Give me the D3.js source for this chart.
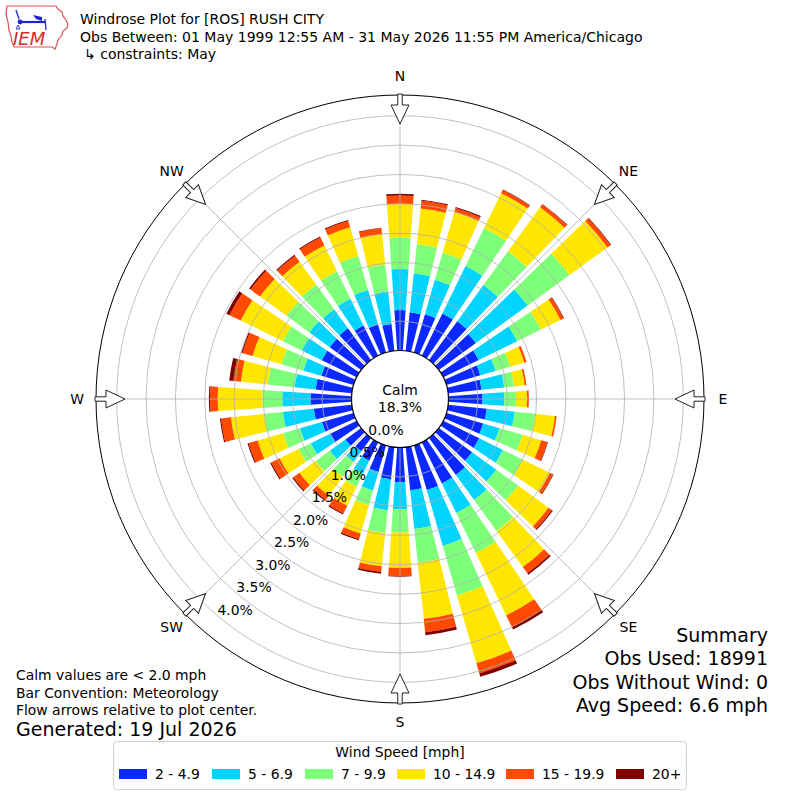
<!DOCTYPE html>
<html>
<head>
<meta charset="utf-8">
<script src="https://cdn.jsdelivr.net/npm/d3@7"></script>
<style>
  html, body { margin: 0; padding: 0; background: #fff; }
  svg { display: block; }
  text { font-family: "DejaVu Sans", sans-serif; }
</style>
</head>
<body>
<svg id="chart" width="800" height="800"></svg>
<script>
// ---------------- data ----------------
const directions = d3.range(0, 360, 10); // degrees, meteorological (from)
const speedBins = ["2 - 4.9", "5 - 6.9", "7 - 9.9", "10 - 14.9", "15 - 19.9", "20+"];
const binColors = ["#0a28ff", "#00d4ff", "#7dff7a", "#ffe600", "#ff4a00", "#800000"];

// percent of observations per direction per speed bin
const speed2to5   = [0.69,0.66,0.68,0.80,0.82,0.78,0.67,0.60,0.57,0.58,0.66,0.65,0.68,0.70,0.78,0.78,0.79,0.74,0.59,0.55,0.47,0.35,0.28,0.33,0.50,0.56,0.65,0.70,0.62,0.57,0.66,0.66,0.67,0.57,0.50,0.46];
const speed5to7   = [0.70,0.67,0.61,0.90,0.76,1.09,0.73,0.27,0.39,0.37,0.48,0.29,0.45,0.51,0.53,0.56,0.99,0.66,0.46,0.53,0.33,0.25,0.22,0.33,0.37,0.39,0.53,0.48,0.36,0.32,0.38,0.43,0.40,0.51,0.61,0.56];
const speed7to10  = [0.53,0.50,0.48,0.72,0.71,0.88,0.45,0.26,0.17,0.20,0.35,0.41,0.38,0.46,0.65,0.76,0.88,0.58,0.40,0.39,0.26,0.24,0.32,0.30,0.23,0.30,0.32,0.34,0.46,0.39,0.36,0.48,0.52,0.52,0.60,0.46];
const speed10to15 = [0.58,0.61,0.72,0.66,0.93,0.80,0.37,0.25,0.18,0.19,0.34,0.33,0.51,0.64,0.76,1.18,1.20,0.96,0.60,0.57,0.50,0.36,0.40,0.34,0.36,0.45,0.57,0.76,0.46,0.51,0.80,0.56,0.48,0.49,0.51,0.52];
const speed15to20 = [0.14,0.13,0.07,0.06,0.06,0.07,0.06,0.04,0.03,0.03,0.03,0.11,0.06,0.07,0.13,0.22,0.18,0.23,0.14,0.10,0.10,0.15,0.09,0.13,0.16,0.16,0.17,0.13,0.13,0.18,0.21,0.20,0.13,0.15,0.11,0.10];
const speed20plus = [0.03,0.02,0.02,0.01,0.01,0.01,0.01,0.00,0.00,0.00,0.00,0.01,0.01,0.02,0.03,0.05,0.06,0.05,0.01,0.03,0.02,0.02,0.02,0.02,0.02,0.02,0.02,0.02,0.07,0.02,0.06,0.03,0.02,0.02,0.02,0.01];

const radialTicks = [0, 0.5, 1.0, 1.5, 2.0, 2.5, 3.0, 3.5, 4.0];
const radialTickLabels = ["0.0%","0.5%","1.0%","1.5%","2.0%","2.5%","3.0%","3.5%","4.0%"];
const compassLabels = ["N","NE","E","SE","S","SW","W","NW"];
const compassAngles = [0, 45, 90, 135, 180, 225, 270, 315];

const calmPercent = "18.3%";
const titleLines = ["Windrose Plot for [ROS] RUSH CITY",
  "Obs Between: 01 May 1999 12:55 AM - 31 May 2026 11:55 PM America/Chicago",
  "\u21b3 constraints: May"];
const summaryLines = ["Summary", "Obs Used: 18991", "Obs Without Wind: 0", "Avg Speed: 6.6 mph"];
const noteLines = ["Calm values are < 2.0 mph", "Bar Convention: Meteorology", "Flow arrows relative to plot center."];
const generatedText = "Generated: 19 Jul 2026";
const legendTitle = "Wind Speed [mph]";

// ---------------- layout ----------------
const svg = d3.select("#chart");
const cx = 400, cy = 399;
const calmR = 48.5;
const outerR = 304;
const rScale = d3.scaleLinear().domain([0, 4.0]).range([calmR, calmR + 58.7 * 4.0]);
const rad = d => d * Math.PI / 180;

const g = svg.append("g").attr("transform", `translate(${cx},${cy})`);

// stacked series
const series = [speed2to5, speed5to7, speed7to10, speed10to15, speed15to20, speed20plus];
const table = directions.map((d, i) => {
  const row = { dir: d };
  speedBins.forEach((b, j) => row[b] = series[j][i]);
  return row;
});
const stacked = d3.stack().keys(speedBins)(table);

const arc = d3.arc()
  .padRadius(100).padAngle(0.012);

const halfWidth = 4.0; // degrees
g.append("g").selectAll("g")
  .data(stacked)
  .join("g")
  .attr("fill", (d, i) => binColors[i])
  .selectAll("path")
  .data(d => d)
  .join("path")
  .attr("d", d => arc({
    innerRadius: rScale(d[0]),
    outerRadius: rScale(d[1]),
    startAngle: rad(d.data.dir - halfWidth),
    endAngle: rad(d.data.dir + halfWidth)
  }));

// grid circles
const grid = g.append("g").attr("fill", "none").attr("stroke", "#b0b0b0").attr("stroke-width", 0.8);
grid.selectAll("circle")
  .data(radialTicks.slice(1))
  .join("circle")
  .attr("r", d => rScale(d));
// radial grid lines
grid.selectAll("line")
  .data(compassAngles)
  .join("line")
  .attr("x1", d => calmR * Math.sin(rad(d)))
  .attr("y1", d => -calmR * Math.cos(rad(d)))
  .attr("x2", d => outerR * Math.sin(rad(d)))
  .attr("y2", d => -outerR * Math.cos(rad(d)));

// outer circle
g.append("circle").attr("r", outerR).attr("fill", "none").attr("stroke", "#000").attr("stroke-width", 1);

// calm circle
g.append("circle").attr("r", calmR).attr("fill", "#fff").attr("stroke", "#000").attr("stroke-width", 1.2);
g.append("text").attr("x", 0).attr("y", -9).attr("text-anchor", "middle").attr("dominant-baseline", "central")
  .attr("font-size", 13.9).text("Calm");
g.append("text").attr("x", 0).attr("y", 8).attr("text-anchor", "middle").attr("dominant-baseline", "central")
  .attr("font-size", 13.9).text(calmPercent);

// radial tick labels
const ux = Math.sin(rad(220)), uy = -Math.cos(rad(220));
const px = 0.766, py = 0.643;
g.append("g").selectAll("text")
  .data(radialTicks)
  .join("text")
  .attr("x", (d) => ux * (rScale(d) - 16) + px * 9)
  .attr("y", (d) => uy * (rScale(d) - 16) + py * 9)
  .attr("text-anchor", "middle")
  .attr("dominant-baseline", "central")
  .attr("font-size", 13.9)
  .text((d, i) => radialTickLabels[i]);

// flow arrows
const arrowPath = `M-2.2,-${outerR+1} L2.2,-${outerR+1} L2.2,-294 L9,-294 L0,-275 L-9,-294 L-2.2,-294 Z`;
g.append("g").selectAll("path")
  .data(compassAngles)
  .join("path")
  .attr("d", arrowPath)
  .attr("transform", d => `rotate(${d})`)
  .attr("fill", "#fff")
  .attr("stroke", "#222")
  .attr("stroke-width", 1);

// compass labels
g.append("g").selectAll("text")
  .data(compassAngles)
  .join("text")
  .attr("x", d => 323 * Math.sin(rad(d)))
  .attr("y", d => -323 * Math.cos(rad(d)))
  .attr("text-anchor", "middle")
  .attr("dominant-baseline", "central")
  .attr("font-size", 13.9)
  .text((d, i) => compassLabels[i]);

// ---------------- header ----------------
const logo = svg.append("g");
logo.append("path")
  .attr("d", "M7,6 L56,6 L58,9 L62,12 L63,16 L66,20 L68,24 L67,28 L63,31 L62,35 L58,40 L57,44 L55,49 L52,47 L14,47 L12,42 L11,36 L9,30 L8,22 L6,14 Z")
  .attr("fill", "#fff").attr("stroke", "#e05050").attr("stroke-width", 1.2);
logo.append("line").attr("x1", 20).attr("y1", 22).attr("x2", 45).attr("y2", 22).attr("stroke", "#1a28c8").attr("stroke-width", 2.2);
logo.append("circle").attr("cx", 20).attr("cy", 22).attr("r", 2.4).attr("fill", "#1a28c8");
logo.append("line").attr("x1", 16).attr("y1", 10).attr("x2", 19).attr("y2", 19).attr("stroke", "#1a28c8").attr("stroke-width", 1.3);
logo.append("path").attr("d", "M33,15 L42,17 L42,21 L36,19 Z").attr("fill", "#1a28c8");
logo.append("line").attr("x1", 45).attr("y1", 19).attr("x2", 46).attr("y2", 30).attr("stroke", "#1a28c8").attr("stroke-width", 1.3);
logo.append("path").attr("d", "M18,25 L20,29 L16,29 Z").attr("fill", "none").attr("stroke", "#1a28c8").attr("stroke-width", 0.9);
logo.append("text").attr("x", 13).attr("y", 45).attr("font-family", "Liberation Serif, serif")
  .attr("font-style", "italic").attr("font-size", 18).attr("fill", "#d42a2a").text("IEM");

svg.append("g").selectAll("text")
  .data(titleLines)
  .join("text")
  .attr("x", (d, i) => i === 2 ? 84 : 80)
  .attr("y", (d, i) => 24 + i * 17.5)
  .attr("font-size", 14)
  .text(d => d);

// ---------------- summary & notes ----------------
svg.append("g").selectAll("text")
  .data(summaryLines)
  .join("text")
  .attr("x", 768)
  .attr("y", (d, i) => 642 + i * 23.3)
  .attr("text-anchor", "end")
  .attr("font-size", 19)
  .text(d => d);

svg.append("g").selectAll("text")
  .data(noteLines)
  .join("text")
  .attr("x", 16)
  .attr("y", (d, i) => 680 + i * 17.5)
  .attr("font-size", 13.9)
  .text(d => d);
svg.append("text").attr("x", 16).attr("y", 736).attr("font-size", 19).text(generatedText);

// ---------------- legend ----------------
const leg = svg.append("g");
leg.append("rect").attr("x", 113.5).attr("y", 741.5).attr("width", 573).attr("height", 48).attr("rx", 3)
  .attr("fill", "#fff").attr("stroke", "#d0d0d0").attr("stroke-width", 1);
leg.append("text").attr("x", 400).attr("y", 752).attr("text-anchor", "middle").attr("dominant-baseline", "central")
  .attr("font-size", 13.9).text(legendTitle);
const swatchX = [119, 212, 305, 397, 506, 616];
const items = leg.selectAll("g.item").data(speedBins).join("g").attr("class", "item")
  .attr("transform", (d, i) => `translate(${swatchX[i]},774)`);
items.append("rect").attr("x", 0).attr("y", -5).attr("width", 28).attr("height", 10).attr("fill", (d, i) => binColors[i]);
items.append("text").attr("x", 36).attr("y", 0).attr("dominant-baseline", "central").attr("font-size", 13.9).text(d => d);
</script>
</body>
</html>
